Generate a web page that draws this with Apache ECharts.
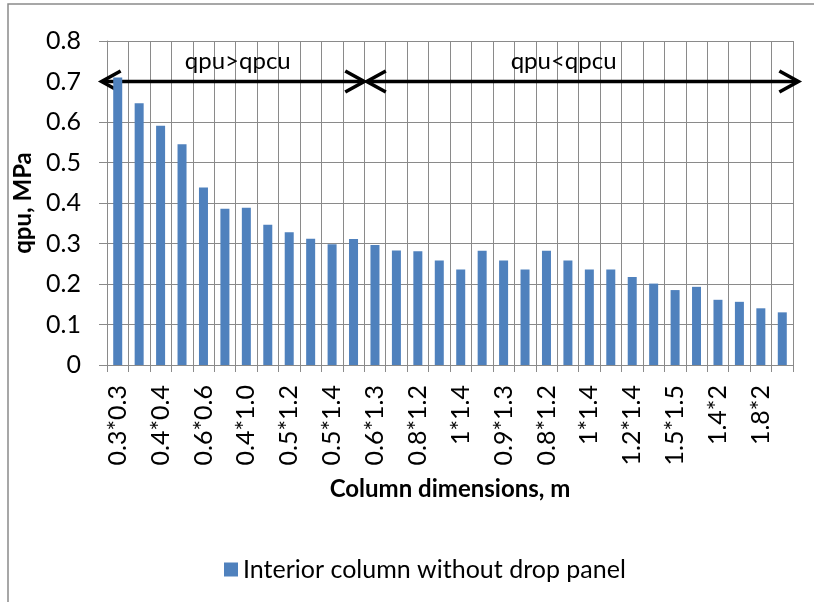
<!DOCTYPE html>
<html>
<head>
<meta charset="utf-8">
<script src="https://cdn.jsdelivr.net/npm/echarts@6/dist/echarts.min.js"></script>
<style>
html,body{margin:0;padding:0;background:#fff;}
#chart{width:814px;height:602px;}
</style>
</head>
<body>
<div id="chart"></div>
<script>
// Categories (only every other label is shown in the reference; hidden ones left blank)
const categories = ["0.3*0.3","","0.4*0.4","","0.6*0.6","","0.4*1.0","","0.5*1.2","","0.5*1.4","","0.6*1.3","","0.8*1.2","","1*1.4","","0.9*1.3","","0.8*1.2","","1*1.4","","1.2*1.4","","1.5*1.5","","1.4*2","","1.8*2",""];
// qpu values, MPa
const qpu = [0.71,0.646,0.591,0.545,0.438,0.386,0.388,0.346,0.328,0.312,0.298,0.311,0.296,0.283,0.281,0.258,0.236,0.282,0.258,0.236,0.282,0.258,0.236,0.236,0.217,0.201,0.185,0.193,0.161,0.156,0.140,0.130];
const seriesName = "Interior column without drop panel";
// Double-headed arrow annotations: [start, end, level] in category-index units / MPa
const arrows = [[-0.25, 12.0, 0.7],[12.12, 32.25, 0.7]];
const arrowTexts = [["qpu>qpcu", 6.1, 0.749],["qpu<qpcu", 21.3, 0.749]];

const FONT = "Lato";
const chart = echarts.init(document.getElementById('chart'), null, {renderer:'canvas'});
const grid = {left:107, right:21, top:41, height:324};
chart.setOption({
  animation:false,
  backgroundColor:'#fff',
  textStyle:{fontFamily:FONT},
  graphic:[{type:'rect', shape:{x:8,y:4,width:900,height:700}, style:{stroke:'#8a8a8a', lineWidth:1.5, fill:null}, silent:true}],
  grid:grid,
  legend:{
    data:[seriesName], left:219, top:552, itemWidth:14, itemHeight:14, itemGap:5,
    icon:'rect',
    textStyle:{fontFamily:FONT, fontSize:25, color:'#000'}
  },
  xAxis:[{
    type:'category', data:categories, boundaryGap:true,
    axisLine:{lineStyle:{color:'#8a8a8a', width:1}},
    axisTick:{show:true, interval:0, length:7, lineStyle:{color:'#8a8a8a'}},
    splitLine:{show:true, interval:0, lineStyle:{color:'#8a8a8a', width:1}},
    axisLabel:{interval:0, rotate:90, margin:20, color:'#000', fontFamily:FONT, fontSize:25},
    name:'Column dimensions, m', nameLocation:'middle', nameGap:112,
    nameTextStyle:{fontFamily:FONT, fontWeight:'bold', fontSize:24, color:'#000'}
  },{
    type:'value', min:0, max:32, show:false
  }],
  yAxis:{
    type:'value', min:0, max:0.8, interval:0.1,
    axisLine:{show:true, lineStyle:{color:'#8a8a8a', width:1}},
    axisTick:{show:true, length:8, lineStyle:{color:'#8a8a8a'}},
    splitLine:{show:true, lineStyle:{color:'#8a8a8a', width:1}},
    axisLabel:{margin:26, color:'#000', fontFamily:FONT, fontSize:25,
      formatter:v=> v===0 ? '0' : v.toFixed(1)},
    name:'qpu, MPa', nameLocation:'middle', nameRotate:90, nameGap:69,
    nameTextStyle:{fontFamily:FONT, fontWeight:'bold', fontSize:24, color:'#000'}
  },
  series:[{
    name:seriesName, type:'bar', data:qpu, barWidth:9, xAxisIndex:0,
    itemStyle:{color:'#4F81BD'}
  },{
    type:'custom', xAxisIndex:1, yAxisIndex:0, clip:false, silent:true,
    data:arrows,
    renderItem:function(params, api){
      const p1 = api.coord([api.value(0), api.value(2)]);
      const p2 = api.coord([api.value(1), api.value(2)]);
      const hw = 19, hh = 10.5, lw = 3.6;
      const st = {stroke:'#000', lineWidth:lw, fill:null};
      return {type:'group', children:[
        {type:'line', shape:{x1:p1[0]+1,y1:p1[1],x2:p2[0]-1,y2:p2[1]}, style:st},
        {type:'polyline', shape:{points:[[p1[0]+hw,p1[1]-hh],[p1[0],p1[1]],[p1[0]+hw,p1[1]+hh]]}, style:st},
        {type:'polyline', shape:{points:[[p2[0]-hw,p2[1]-hh],[p2[0],p2[1]],[p2[0]-hw,p2[1]+hh]]}, style:st}
      ]};
    }
  },{
    type:'custom', xAxisIndex:1, yAxisIndex:0, clip:false, silent:true,
    data:arrowTexts.map(d=>[d[1], d[2], d[0]]),
    dimensions:['x','y','t'],
    renderItem:function(params, api){
      const p = api.coord([api.value(0), api.value(1)]);
      return {type:'text', x:p[0], y:p[1], style:{text:arrowTexts[params.dataIndex][0], font:'24px '+FONT, fill:'#000', align:'center', verticalAlign:'middle'}};
    }
  }]
});
</script>
</body>
</html>
